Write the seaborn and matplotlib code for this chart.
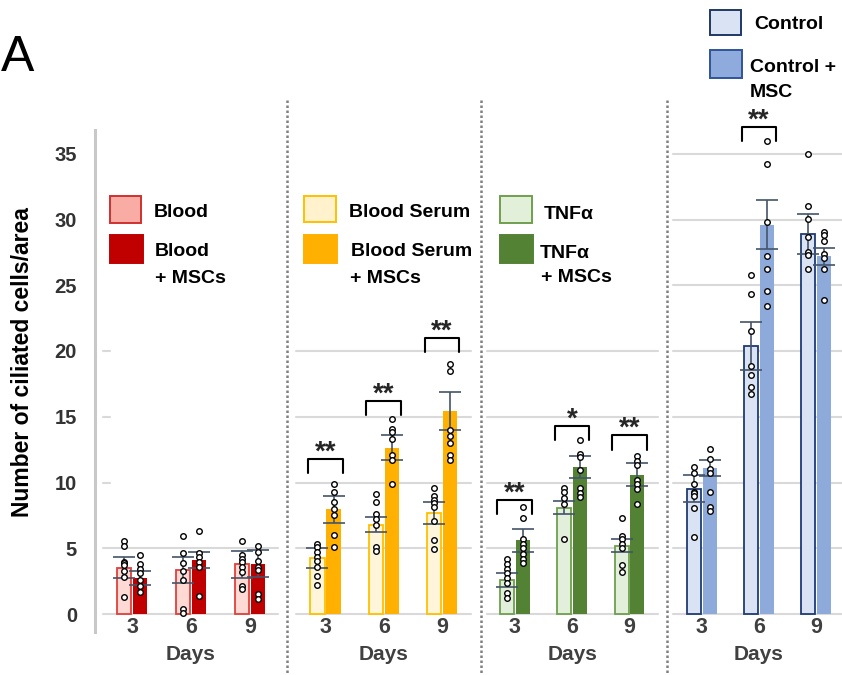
import numpy as np
import pandas as pd
import matplotlib
matplotlib.use("Agg")
import matplotlib.pyplot as plt
import seaborn as sns
from matplotlib.lines import Line2D
from matplotlib.patches import Rectangle

# ---- data ----
days = ["3", "6", "9"]

blood_mean = [3.5, 3.34, 3.77]
blood_sem = [0.8, 0.98, 1.0]
blood_msc_mean = [2.75, 4.1, 3.83]
blood_msc_sem = [0.53, 0.62, 1.0]
blood_pts = [[5.56, 5.15, 3.98, 3.9, 3.7, 3.3, 2.83, 1.3],
             [5.9, 4.67, 3.9, 3.26, 2.57, 0.38, 0.08],
             [5.56, 4.51, 4.18, 3.93, 3.57, 3.16, 2.14, 1.89]]
blood_msc_pts = [[4.46, 3.77, 3.44, 3.13, 2.55, 2.1, 1.7],
                 [6.3, 4.67, 4.36, 3.95, 3.57, 1.4],
                 [5.15, 4.7, 4.0, 3.6, 3.34, 1.5, 1.17]]

serum_mean = [4.26, 6.8, 7.7]
serum_sem = [0.75, 0.6, 0.83]
serum_msc_mean = [7.96, 12.65, 15.45]
serum_msc_sem = [1.05, 0.95, 1.45]
serum_pts = [[5.3, 5.07, 4.69, 4.36, 4.0, 3.54, 2.9, 2.2],
             [9.16, 8.5, 7.6, 7.2, 6.8, 5.1, 4.77],
             [9.6, 8.95, 8.7, 8.44, 8.13, 7.06, 5.66, 4.97]]
serum_msc_pts = [[9.87, 9.3, 8.5, 8.0, 7.55, 5.97, 5.07],
                 [14.8, 14.1, 13.85, 13.3, 12.1, 11.7, 9.9],
                 [19.0, 18.5, 14.0, 13.5, 13.0, 12.1, 11.7]]

tnf_mean = [2.57, 8.08, 5.2]
tnf_sem = [0.53, 0.5, 0.5]
tnf_msc_mean = [5.6, 11.2, 10.6]
tnf_msc_sem = [0.85, 0.83, 0.9]
tnf_pts = [[4.2, 3.8, 3.45, 3.1, 2.7, 2.35, 1.6, 1.2],
           [9.55, 9.3, 8.8, 8.4, 5.7],
           [7.3, 5.9, 5.7, 5.36, 5.0, 3.76, 3.17]]
tnf_msc_pts = [[8.1, 7.3, 5.7, 5.35, 5.0, 4.6, 4.2, 3.9],
               [13.2, 12.2, 11.97, 10.97, 9.6, 9.2, 8.9],
               [11.98, 11.6, 11.35, 10.2, 9.9, 9.5, 8.4]]

ctrl_mean = [9.53, 20.38, 28.9]
ctrl_sem = [1.05, 1.85, 1.55]
ctrl_msc_mean = [11.08, 29.6, 27.2]
ctrl_msc_sem = [0.6, 1.85, 0.65]
ctrl_pts = [[11.2, 10.7, 9.86, 9.3, 9.22, 9.0, 8.04, 5.88],
            [25.8, 24.3, 21.5, 18.86, 18.2, 17.3, 16.7],
            [34.96, 31.0, 30.06, 28.7, 27.5, 27.3, 26.2]]
ctrl_msc_pts = [[12.57, 11.8, 11.0, 10.7, 9.25, 8.16, 7.86],
                [35.97, 34.2, 29.8, 27.2, 26.2, 24.6, 23.4],
                [29.07, 28.8, 28.4, 27.4, 27.05, 26.2, 23.9]]

# significance: (day index, label, bracket top)
serum_sig = [(0, "**", 11.8), (1, "**", 16.2), (2, "**", 21.0)]
tnf_sig = [(0, "**", 8.67), (1, "*", 14.3), (2, "**", 13.6)]
ctrl_sig = [(1, "**", 37.06)]

y_ticks = [0, 5, 10, 15, 20, 25, 30, 35]

# ---- figure helpers (pixel layout of the reference) ----
W, H = 842, 675
Y0_PX, PX_PER_UNIT = 614, 13.15
AX_TOP, AX_BOT = 130, 632


def fx(x):
    return x / W


def fy(y):
    return 1 - y / H


sns.set_style("white")
plt.rcParams["font.family"] = ["Liberation Sans", "DejaVu Sans"]

fig = plt.figure(figsize=(W / 100, H / 100), dpi=100)

panels = [
    dict(name=("Blood", "Blood + MSCs"), mean=(blood_mean, blood_msc_mean),
         sem=(blood_sem, blood_msc_sem), pts=(blood_pts, blood_msc_pts),
         fill=("#ffdad5", "#c00000"), edge=("#e0403c", "none"),
         left=95, right=287, first=132, step=59, grid=[0, 5], stubs=[10, 15, 20],
         gx=(0.04, 0.953), sig=[]),
    dict(name=("Blood Serum", "Blood Serum + MSCs"), mean=(serum_mean, serum_msc_mean),
         sem=(serum_sem, serum_msc_sem), pts=(serum_pts, serum_msc_pts),
         fill=("#fff5da", "#ffb000"), edge=("#ffc000", "none"),
         left=287, right=481, first=325.5, step=58.25, grid=[0, 5, 10, 15, 20], stubs=[],
         gx=(0.046, 0.948), sig=serum_sig),
    dict(name=("TNFα", "TNFα + MSCs"), mean=(tnf_mean, tnf_msc_mean),
         sem=(tnf_sem, tnf_msc_sem), pts=(tnf_pts, tnf_msc_pts),
         fill=("#e2efda", "#548235"), edge=("#6f9f4f", "none"),
         left=481, right=667, first=514.7, step=57.4, grid=[0, 5, 10, 15, 20], stubs=[],
         gx=(0.03, 0.95), sig=tnf_sig),
    dict(name=("Control", "Control + MSC"), mean=(ctrl_mean, ctrl_msc_mean),
         sem=(ctrl_sem, ctrl_msc_sem), pts=(ctrl_pts, ctrl_msc_pts),
         fill=("#dae3f3", "#8eaadb"), edge=("#1f3b73", "none"),
         left=667, right=842, first=701.7, step=57.3, grid=y_ticks, stubs=[],
         gx=(0.034, 1.0), sig=ctrl_sig),
]

ylim = ((Y0_PX - AX_BOT) / PX_PER_UNIT, (Y0_PX - AX_TOP) / PX_PER_UNIT)
offset = 0.1375

for k, p in enumerate(panels):
    ax = fig.add_axes([fx(p["left"]), fy(AX_BOT), (p["right"] - p["left"]) / W,
                       (AX_BOT - AX_TOP) / H])
    ax.set_facecolor("none")

    df = pd.DataFrame({
        "day": days * 2,
        "group": [p["name"][0]] * 3 + [p["name"][1]] * 3,
        "mean": list(p["mean"][0]) + list(p["mean"][1]),
    })
    sns.barplot(data=df, x="day", y="mean", hue="group", order=days,
                hue_order=list(p["name"]), palette=list(p["fill"]),
                width=0.55, gap=0.12, errorbar=None, legend=False,
                saturation=1, ax=ax, zorder=2)
    for h, cont in enumerate(ax.containers):
        for bar in cont:
            if p["edge"][h] == "none":
                bar.set_edgecolor("none")
            else:
                bar.set_edgecolor(p["edge"][h])
                bar.set_linewidth(1.3)

    for h in range(2):
        xs = np.arange(3) + (h - 0.5) * 2 * offset
        ax.errorbar(xs, p["mean"][h], yerr=p["sem"][h], fmt="none",
                    ecolor="#44546a", elinewidth=1.2, capsize=8, capthick=1.2,
                    zorder=3)
        for i in range(3):
            vals = p["pts"][h][i]
            ax.scatter([xs[i]] * len(vals), vals, s=16, facecolor="white",
                       edgecolor="black", linewidth=1.0, zorder=4)

    for lv in p["grid"]:
        ax.axhline(lv, p["gx"][0], p["gx"][1], color="#d9d9d9", lw=1.5, zorder=0)
    for lv in p["stubs"]:
        ax.axhline(lv, p["gx"][0], 0.08, color="#d9d9d9", lw=1.5, zorder=0)

    for i, lab, top in p["sig"]:
        ax.plot([i - 0.3, i - 0.3, i + 0.3, i + 0.3], [top - 1.1, top, top, top - 1.1],
                color="black", lw=1.5, clip_on=False, solid_joinstyle="round",
                solid_capstyle="round", zorder=5)
        ax.text(i, top - 0.05, lab, ha="center", va="baseline", fontsize=20,
                fontweight="bold", clip_on=False)

    ax.set_ylim(*ylim)
    ax.set_xlim((p["left"] - p["first"]) / p["step"], (p["right"] - p["first"]) / p["step"])
    for s in ax.spines.values():
        s.set_visible(False)
    ax.tick_params(axis="both", length=0)
    ax.set_xticks(range(3))
    ax.set_xticklabels(days, fontsize=15.5, fontweight="bold", color="#404040")
    ax.tick_params(axis="x", pad=-11)
    if k == 0:
        ax.set_yticks(y_ticks)
        ax.set_yticklabels([str(t) for t in y_ticks], fontsize=14.5, fontweight="bold",
                           color="#333333")
        ax.tick_params(axis="y", pad=13)
        ax.spines["left"].set_visible(True)
        ax.spines["left"].set_color("#c8c8c8")
        ax.spines["left"].set_linewidth(2.2)
    else:
        ax.set_yticks([])
    ax.set_ylabel("")
    ax.set_xlabel("Days", fontsize=15, fontweight="bold", color="#404040")
    xl = ax.get_xlim()
    ax.xaxis.set_label_coords((1 - xl[0]) / (xl[1] - xl[0]), -0.026)

# dotted panel dividers
for xd in [287, 481, 667]:
    fig.add_artist(Line2D([fx(xd), fx(xd)], [fy(100), fy(675)], transform=fig.transFigure,
                          color="#808080", lw=1.8, linestyle=(0, (1, 1))))

# hand-made legends
legend_boxes = [
    ((110, 196, 141, 223), "#f9aca3", "#d03030", [(154, 217, "Blood")]),
    ((110, 235, 143, 263), "#c00000", "#c00000", [(155, 256, "Blood"), (155, 283, "+ MSCs")]),
    ((304, 196, 336, 222), "#fff2cc", "#ffc000", [(349, 217, "Blood Serum")]),
    ((304, 235, 337, 263), "#ffb000", "#ffb000", [(351, 256, "Blood Serum"), (350, 283, "+ MSCs")]),
    ((500, 196, 532, 223), "#e2f0d9", "#6f9f4f", [(544, 219, "TNFα")]),
    ((500, 235, 533, 263), "#548235", "#548235", [(540, 258, "TNFα"), (541, 282, "+ MSCs")]),
    ((710, 10, 741, 35), "#dae3f3", "#203864", [(754, 29, "Control")]),
    ((710, 50, 742, 78), "#8faadc", "#2f5597", [(750, 72, "Control +"), (750, 97, "MSC")]),
]
for (x0, y0, x1, y1), fc, ec, texts in legend_boxes:
    fig.add_artist(Rectangle((fx(x0), fy(y1)), (x1 - x0) / W, (y1 - y0) / H,
                             transform=fig.transFigure, facecolor=fc, edgecolor=ec, lw=1.4))
    for tx, ty, s in texts:
        fig.text(fx(tx), fy(ty), s, fontsize=14, fontweight="bold", va="baseline",
                 ha="left", color="black")

fig.text(fx(23), fy(362), "Number of ciliated cells/area", rotation=90, ha="center",
         va="center", fontsize=16.5, fontweight="bold", color="black")
fig.text(fx(1), fy(71), "A", fontsize=36, ha="left", va="baseline", color="black")

fig.savefig("out.png", dpi=100)
